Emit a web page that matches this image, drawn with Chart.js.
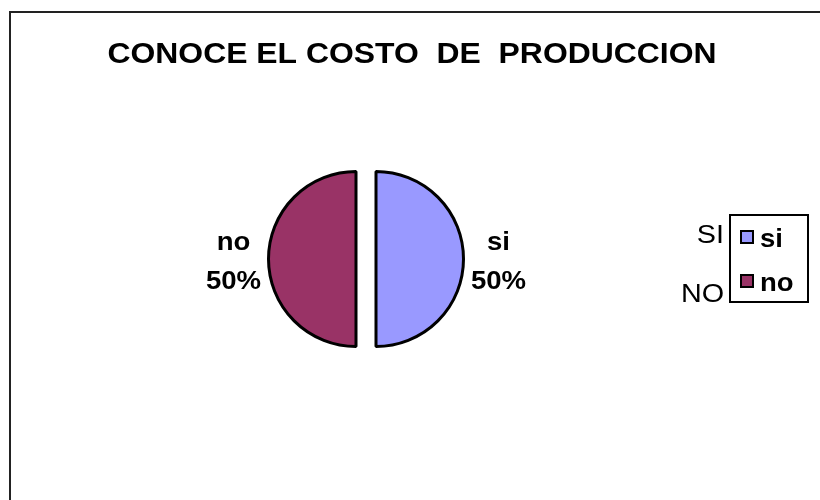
<!DOCTYPE html>
<html lang="es">
<head>
<meta charset="UTF-8">
<title>Conoce el costo de produccion</title>
<style>
  html, body { margin: 0; padding: 0; background: #fff; }
  #wrap { width: 820px; height: 500px; position: relative; }
</style>
</head>
<body>
<div id="wrap"><canvas id="myChart" width="820" height="500"></canvas></div>

<script src="https://cdn.jsdelivr.net/npm/chart.js"></script>
<script>
// datos
const tituloTexto = 'CONOCE EL COSTO  DE  PRODUCCION';
const categorias = ['si', 'no'];
const valores = [50, 50];
const colores = ['#9999FF', '#993366'];
const etiquetasFuera = ['SI', 'NO'];

const fuente = '"Liberation Sans", Arial, Helvetica, sans-serif';
const separacion = 10; // cuanto se separan las porciones del centro

// texto algo ensanchado, como en la imagen original
function texto(c, str, x, y, sx) {
  c.save();
  c.translate(x, y);
  c.scale(sx, 1);
  c.fillText(str, 0, 0);
  c.restore();
}

// porciones separadas sin deformar los bordes rectos
const separar = {
  id: 'separar',
  beforeDatasetsDraw(chart) {
    chart.getDatasetMeta(0).data.forEach(arc => {
      if (arc._separada) return;
      const original = arc.draw;
      arc.draw = function (c, area) {
        const mid = (this.startAngle + this.endAngle) / 2;
        c.save();
        c.translate(Math.cos(mid) * separacion, Math.sin(mid) * separacion);
        original.call(this, c, area);
        c.restore();
      };
      arc._separada = true;
    });
  }
};

// marco, titulo, etiquetas de porcentaje y leyenda
const extras = {
  id: 'extras',
  beforeDraw(chart) {
    const c = chart.ctx;
    c.save();
    c.fillStyle = '#fff';
    c.fillRect(0, 0, chart.width, chart.height);
    c.strokeStyle = '#222';
    c.lineWidth = 2;
    c.beginPath();
    c.moveTo(10, 500);
    c.lineTo(10, 12);
    c.lineTo(820, 12);
    c.stroke();
    c.restore();
  },
  afterDraw(chart) {
    const c = chart.ctx;
    c.save();
    c.fillStyle = '#000';
    c.textBaseline = 'alphabetic';

    // titulo
    c.font = 'bold 29px ' + fuente;
    c.textAlign = 'center';
    texto(c, tituloTexto, 412, 63, 1.1);

    // etiquetas de porcentaje
    const meta = chart.getDatasetMeta(0);
    const total = valores.reduce((a, b) => a + b, 0);
    meta.data.forEach((arc, i) => {
      const p = arc.getProps(['x', 'y', 'startAngle', 'endAngle', 'outerRadius']);
      const mid = (p.startAngle + p.endAngle) / 2;
      const r = p.outerRadius + 45;
      const x = p.x + Math.cos(mid) * r;
      const y = p.y + Math.sin(mid) * r;
      c.font = 'bold 26px ' + fuente;
      c.textAlign = 'center';
      texto(c, categorias[i], x, y - 9, 1.06);
      texto(c, Math.round(valores[i] / total * 100) + '%', x, y + 30, 1.06);
    });

    // leyenda
    c.lineWidth = 2;
    c.strokeStyle = '#000';
    c.strokeRect(730, 215, 78, 87);
    const filas = [247, 291];
    categorias.forEach((cat, i) => {
      const y = filas[i];
      c.fillStyle = colores[i];
      c.fillRect(741, y - 16, 12, 12);
      c.strokeRect(741, y - 16, 12, 12);
      c.fillStyle = '#000';
      c.font = 'bold 25px ' + fuente;
      c.textAlign = 'left';
      texto(c, cat, 760, y, 1.1);
    });
    c.font = '25px ' + fuente;
    c.textAlign = 'right';
    texto(c, etiquetasFuera[0], 724, 243, 1.15);
    texto(c, etiquetasFuera[1], 724, 302, 1.15);
    c.restore();
  }
};

const ctx = document.getElementById('myChart');
new Chart(ctx, {
  type: 'pie',
  data: {
    labels: categorias,
    datasets: [{
      data: valores,
      backgroundColor: colores,
      borderColor: '#000',
      borderWidth: 3,
      offset: 0,
      hoverOffset: 0,
      clip: false
    }]
  },
  options: {
    responsive: false,
    animation: false,
    layout: { padding: { left: 277, right: 365, top: 170, bottom: 152 } },
    plugins: {
      legend: { display: false },
      title: { display: false },
      tooltip: { enabled: false }
    }
  },
  plugins: [separar, extras]
});
</script>
</body>
</html>
